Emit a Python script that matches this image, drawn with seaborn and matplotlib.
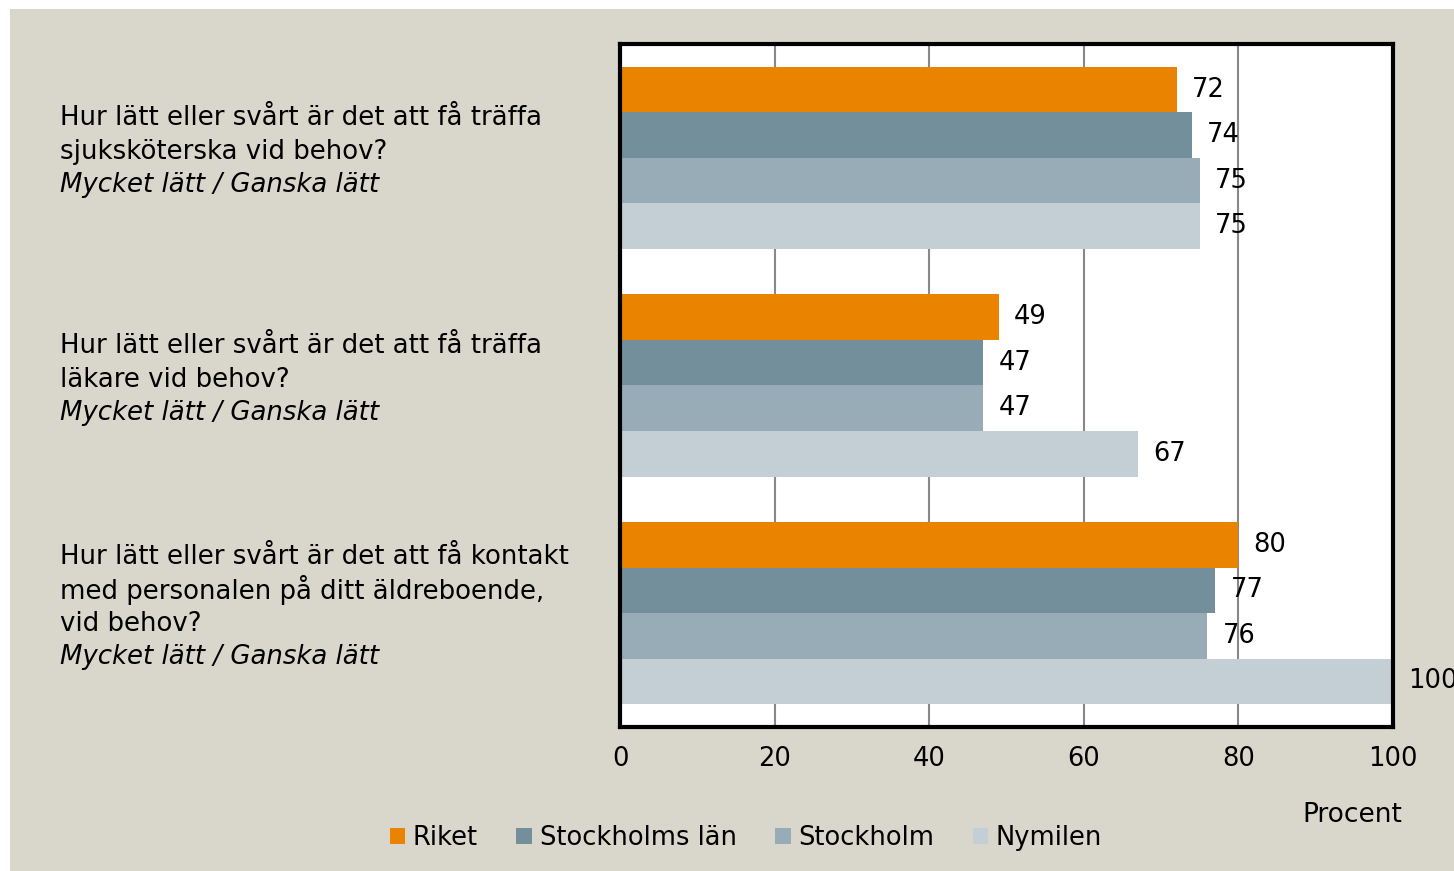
import matplotlib
matplotlib.use("Agg")
import matplotlib.pyplot as plt
import matplotlib.transforms as mtransforms
from matplotlib.patches import Patch, Rectangle
import seaborn as sns
import pandas as pd

# ---- data ----
questions = ["Q1", "Q2", "Q3"]
question_lines = [
    ["Hur lätt eller svårt är det att få träffa", "sjuksköterska vid behov?"],
    ["Hur lätt eller svårt är det att få träffa", "läkare vid behov?"],
    ["Hur lätt eller svårt är det att få kontakt", "med personalen på ditt äldreboende,", "vid behov?"],
]
subtitle = "Mycket lätt / Ganska lätt"
regions = ["Riket", "Stockholms län", "Stockholm", "Nymilen"]
riket = [72, 49, 80]
stockholms_lan = [74, 47, 77]
stockholm = [75, 47, 76]
nymilen = [75, 67, 100]
x_ticks = [0, 20, 40, 60, 80, 100]
x_label = "Procent"
colors = ["#E98300", "#748F9C", "#98ACB7", "#C3CED5"]

series = [riket, stockholms_lan, stockholm, nymilen]
rows = []
for reg, vals in zip(regions, series):
    for q, v in zip(questions, vals):
        rows.append({"question": q, "region": reg, "value": v})
df = pd.DataFrame(rows)

sns.set_theme(style="white")
plt.rcParams["font.family"] = ["DejaVu Sans"]
plt.rcParams["text.color"] = "#000000"

W, H = 1454, 871
fig = plt.figure(figsize=(W / 100, H / 100), dpi=100)
fig.patch.set_facecolor("white")
fig.patches.append(Rectangle((10 / W, 0), 1 - 10 / W, 1 - 9 / H, transform=fig.transFigure,
                             facecolor="#D9D7CB", edgecolor="none", zorder=-10))

ax = fig.add_axes([620 / W, 1 - 727 / H, (1393 - 620) / W, (727 - 44) / H])
sns.barplot(data=df, y="question", x="value", hue="region", hue_order=regions,
            order=questions, palette=colors, orient="h", width=0.8, saturation=1,
            linewidth=0, ax=ax, legend=False)
ax.set_facecolor("white")
ax.set_xlim(0, 100)
ax.set_ylim(2.5, -0.5)
ax.set_xticks(x_ticks)
ax.set_xticklabels([str(t) for t in x_ticks], fontsize=18.5)
ax.tick_params(axis="x", length=0, pad=14, colors="#000000")
ax.set_yticks([])
ax.set_xlabel("")
ax.set_ylabel("")
ax.set_axisbelow(True)
ax.grid(axis="x", color="#888888", linewidth=1.5)
ax.grid(axis="y", visible=False)
for s in ax.spines.values():
    s.set_visible(True)
    s.set_color("black")
    s.set_linewidth(3)

for c in ax.containers:
    lbls = ax.bar_label(c, padding=11, fontsize=18.5, color="#000000")
    for t in lbls:
        t.set_y(t.get_position()[1])
        t.set_va("center")

# category labels
blend = mtransforms.blended_transform_factory(fig.transFigure, ax.transData)
line_px = 33.5
for i, lines in enumerate(question_lines):
    all_lines = lines + [subtitle]
    n = len(all_lines)
    for j, txt in enumerate(all_lines):
        dy_px = -((j - (n - 1) / 2) * line_px) + 6
        tr = mtransforms.offset_copy(blend, fig=fig, x=0, y=dy_px * 0.72, units="points")
        ax.text(60 / W, i, txt, transform=tr, ha="left", va="center", fontsize=18.7,
                color="#000000", style="italic" if j == n - 1 else "normal", clip_on=False)

handles = [Patch(facecolor=c, edgecolor="none") for c in colors]
leg = fig.legend(handles, regions, loc="center", bbox_to_anchor=(746 / W, 1 - 838 / H), ncol=4,
                 frameon=False, fontsize=18.5, handlelength=0.6, handleheight=0.6,
                 handletextpad=0.3, columnspacing=1.5)
for t in leg.get_texts():
    t.set_color("#000000")

fig.text(1352 / W, 1 - 815 / H, x_label, ha="center", va="center", fontsize=19, color="#000000")

fig.savefig("out.png", dpi=100, facecolor=fig.get_facecolor())
